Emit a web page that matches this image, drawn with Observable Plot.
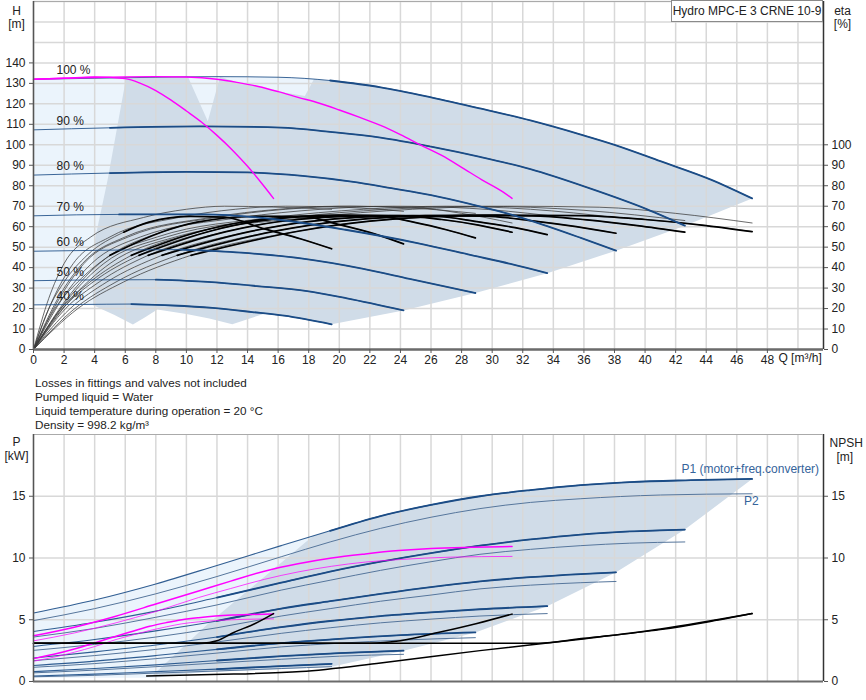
<!DOCTYPE html>
<html><head><meta charset="utf-8">
<script src="https://cdn.jsdelivr.net/npm/d3@7"></script>
<script src="https://cdn.jsdelivr.net/npm/@observablehq/plot@0.6"></script>
<style>
body{margin:0;background:#fff;font-family:"Liberation Sans",Arial,sans-serif;color:#222;}
#wrap{position:relative;width:866px;height:700px;overflow:hidden;}
.abs{position:absolute;font-size:11.7px;line-height:14px;white-space:nowrap;}
#topc,#botc{position:absolute;left:0;}
#topc{top:0}
#botc{top:426px}
#title{position:absolute;left:671px;top:0;width:150px;height:20px;border:1px solid #8a8a8a;background:#fff;font-size:12px;line-height:20px;text-align:center;}
</style></head><body><div id="wrap">
<div id="topc"></div>
<div id="botc"></div>
</div>
<script>
// ---------------- data ----------------
const qGrid = [0,2,4,6,8,10,12,14,16,18,20,22,24,26,28,30,32,34,36,38,40,42,44,46,48,50];
const qTicks = [0,2,4,6,8,10,12,14,16,18,20,22,24,26,28,30,32,34,36,38,40,42,44,46,48];
const hGrid = [0,10,20,30,40,50,60,70,80,90,100,110,120,130,140,150,160,170];
const hTicks = [0,10,20,30,40,50,60,70,80,90,100,110,120,130,140];
const etaTicks = [0,10,20,30,40,50,60,70,80,90,100];
const pGrid = [5,10,15];
const pTicks = [0,5,10,15];
const npshTicks = [0,5,10,15];

const speedLabels = ["100 %","90 %","80 %","70 %","60 %","50 %","40 %"];
// QH curves, 3 pumps, per speed  [Q m3/h, H m]
const qh100 = [[0,132],[4,132.5],[8,133],[12,133.3],[16,133],[19.4,131.4],[22.7,128.1],[26,123.2],[29.2,117.8],[32.5,111.9],[35.8,105],[38,100],[41,92],[44.3,83],[47,73.8]];
const qh90 = [[0,107.3],[5,108.3],[10.9,109],[16.2,108.4],[19.4,106.3],[22.7,103.5],[26,99.1],[29.2,94.1],[32.5,88.1],[36.2,79.2],[40.1,68.6],[42.6,60.5]];
const qh80 = [[0,85.2],[5,86.2],[10,86.8],[14,86.5],[17.6,84.8],[20.8,82],[23.4,78.8],[26,75.4],[28.6,71],[31.2,66],[33.5,60.5],[35.8,54.5],[38.1,48.3]];
const qh70 = [[0,65.3],[5.6,66],[11.2,66],[15.9,63.5],[20.4,58.5],[25.1,52],[28.7,46],[31.2,41.8],[33.6,37.3]];
const qh60 = [[0,48],[4.8,48.5],[9.6,48.8],[13.6,47.3],[17.5,44.5],[21.5,39.5],[24.6,34.5],[28.9,27.6]];
const qh50 = [[0,33.6],[4,34],[8,34.1],[11.4,33],[14.6,31],[17.9,28.5],[20.5,25],[24.2,19.1]];
const qh40 = [[0,21.8],[3.2,22],[6.4,22.2],[9.1,21.5],[11.7,20.3],[14.3,18.3],[16.4,16.5],[19.5,12.3]];
// 1 pump and 2 pumps at 100 % (magenta)
const qhOnePump = [[0,132],[2,132.5],[4,133.2],[6,132.3],[7,130],[8,126.5],[9,121.8],[10,116.5],[11,111],[12,104.6],[13,97.5],[14,89.5],[15,80.5],[15.7,73.8]];
const qhTwoPumps = [[0,132],[2,132.5],[4,132.9],[6,133.2],[8,133.3],[10,133.1],[12,132],[13.3,130.5],[14.7,128.5],[16,126],[17.3,123.2],[18.7,120.3],[20,117],[21.3,113.5],[22.7,109.5],[24,105],[25.3,100],[26.7,94.8],[28,89],[29.3,83],[30.7,77],[31.3,73.8]];

// efficiency curves [Q, eta %]
const etaTot100 = [[0,0],[2.9,20],[5.9,33],[10.3,46],[17.4,57.9],[22,62.7],[30.3,65.6],[35.8,65.4],[40,63.5],[43.7,60.8],[47,57.6]];
const etaTot90 = [[0,0],[2.7,20],[5.4,33],[9.4,46],[15.8,57.8],[20,62.6],[27.5,65.5],[32.6,65.3],[36.2,63.3],[39.5,60.5],[42.6,57.3]];
const etaTot80 = [[0,0],[2.4,20],[4.8,33],[8.4,46],[14.2,57.7],[18,62.5],[24.8,65.4],[29.5,65.2],[32.5,63],[35.5,60],[38.1,56.8]];
const etaTot70 = [[0,0],[2.1,20],[4.3,33],[7.5,46],[12.6,57.6],[16,62.4],[22,65.3],[26.2,65.1],[29,62.5],[31.5,59.5],[33.6,56.1]];
const etaTot60 = [[0,0],[1.8,20],[3.7,33],[6.4,46],[10.8,57.5],[13.7,62.3],[18.8,65.2],[22.5,65],[25,62],[27,58.5],[28.9,54.5]];
const etaTot50 = [[0,0],[1.4,20],[2.9,33],[5,46],[8.4,57.4],[10.7,62.2],[14.7,65.1],[17.5,65],[20,61],[22.3,56.5],[24.2,51.6]];
const etaTot40 = [[0,0],[1,20],[2,33],[3.5,46],[5.9,57.3],[7.5,62.1],[10.3,65],[12.5,64.6],[15.1,58.9],[17.5,54],[19.5,49.2]];
const etaTotTwo = [[0,0],[1.9,20],[3.9,33],[6.9,46],[11.6,57.9],[14.7,62.7],[20.2,65.6],[23.9,65.4],[26.7,63.5],[29.1,60.8],[31.3,57.3]];
const etaPump100 = [[0,0],[2.5,25],[5,42],[9.3,55],[18,64.5],[24.8,68.5],[31,70],[37,69.5],[42,66.5],[47,61.8]];
const etaPump90 = [[0,0],[2.3,25],[4.6,42],[8.7,55],[16.8,64.5],[23.2,68.5],[29,70],[36,68],[42.6,63]];
const etaPump80 = [[0,0],[2.2,25],[4.3,42],[8.1,55],[15.7,64.5],[21.6,68.5],[27,70],[32.5,68.5],[38.1,64.5]];
const etaPump70 = [[0,0],[1.9,25],[3.8,42],[7,55],[13.6,64.5],[18.8,68.5],[23.5,70],[28.5,69],[33.6,65.5]];
const etaPump60 = [[0,0],[1.6,25],[3.2,42],[6,55],[11.6,64.5],[16,68.5],[20,70],[24.5,69.2],[28.9,66.5]];
const etaPump50 = [[0,0],[1.3,25],[2.6,42],[5,55],[9.5,64.5],[13.2,68.5],[16.5,70],[20.5,69.4],[24.2,67.5]];
const etaPump40 = [[0,0],[1,25],[2,42],[3.75,55],[7.2,64.5],[10,68.5],[12.5,70],[15.6,69.6],[19.5,68.5]];
const etaPumpTwo = [[0,0],[1.7,25],[3.3,42],[6.2,55],[12,64.5],[16.5,68.5],[20.7,70],[24.7,69.5],[28,66.5],[31.3,61.8]];

// shaded operating areas, top chart [Q, H]
const areaFullQH = [[0,21.8],[4.0,21.6],[5.7,110],[11.4,108],[17.9,120],[18.4,132.3],[16,133],[12,133.3],[8,133],[4,132.5],[0,132]];
const areaPumpsQH = [[3.9,21.6],[3.85,35],[3.96,51.6],[4.84,82.5],[6.05,132.4],[8,133],[10.1,133.2],[11.4,111.5],[12.2,133.3],[13.3,130.5],[14.7,128.5],[16,126],[17.75,123.8],[18.35,132.2],[19.4,131.4],[22.7,128.1],[26,123.2],[29.2,117.8],[32.5,111.9],[35.8,105],[38,100],[41,92],[44.3,83],[47,73.8],[42.6,60.5],[38.1,48.3],[33.6,37.3],[28.9,27.6],[24.2,19.1],[19.5,12.3],[16.4,16.5],[15.1,17.5],[14,14.8],[13,12.3],[11.5,15.2],[10,17.4],[8.1,19.5],[7.3,15.8],[6.5,12.2],[5.3,16.8],[3.9,21.6]];

// power curves, 3 pumps [Q, P kW]
const p1_100 = [[0,5.55],[4,6.6],[8,7.9],[12,9.4],[16.2,11.0],[19.4,12.2],[22.7,13.4],[26,14.3],[29.2,15.0],[32.5,15.5],[35.8,15.9],[39,16.15],[43,16.3],[47,16.4]];
const p2_100 = [[0,4.93],[4,5.9],[8,7.1],[12,8.5],[16.2,10.1],[19.4,11.3],[22.7,12.4],[26,13.3],[29.2,14.0],[32.5,14.5],[35.8,14.8],[41,15.1],[47,15.2]];
const p1_90 = [[0,4.05],[4,4.8],[8,5.7],[12,6.8],[16.2,8.0],[19.4,8.9],[22.7,9.7],[26,10.4],[29.2,11.0],[32.5,11.5],[35.8,11.9],[39,12.15],[42.6,12.3]];
const p2_90 = [[0,3.6],[4,4.3],[8,5.2],[12,6.2],[16.2,7.4],[19.4,8.2],[22.7,9.0],[26,9.7],[29.2,10.3],[32.5,10.7],[35.8,11.0],[39,11.2],[42.6,11.3]];
const p1_80 = [[0,2.84],[4,3.4],[8,4.1],[12,4.9],[16.2,5.9],[19.4,6.5],[22.7,7.1],[26,7.65],[29.2,8.1],[32.5,8.45],[35.8,8.7],[38.1,8.84]];
const p2_80 = [[0,2.52],[4,3.0],[8,3.6],[12,4.35],[16.2,5.3],[19.4,5.9],[22.7,6.5],[26,7.0],[29.2,7.5],[32.5,7.8],[35.8,8.0],[38.1,8.1]];
const p1_70 = [[0,1.9],[4,2.4],[8,2.95],[12,3.6],[16.2,4.4],[19.4,4.9],[22.7,5.3],[26,5.6],[29.2,5.85],[33.6,6.1]];
const p2_70 = [[0,1.69],[4,2.1],[8,2.6],[12,3.2],[16.2,3.9],[19.4,4.35],[22.7,4.75],[26,5.05],[29.2,5.3],[33.6,5.5]];
const p1_60 = [[0,1.3],[4,1.65],[8,2.1],[12,2.6],[16.2,3.1],[20,3.45],[24,3.75],[28.9,3.97]];
const p2_60 = [[0,1.15],[4,1.45],[8,1.85],[12,2.3],[16.2,2.8],[20,3.1],[24,3.35],[28.9,3.55]];
const p1_50 = [[0,0.8],[4,1.05],[8,1.35],[12,1.7],[16.2,2.05],[20,2.3],[24.2,2.5]];
const p2_50 = [[0,0.7],[4,0.92],[8,1.2],[12,1.5],[16.2,1.8],[20,2.05],[24.2,2.2]];
const p1_40 = [[0,0.45],[4,0.6],[8,0.8],[12,1.0],[16.2,1.25],[19.5,1.43]];
const p2_40 = [[0,0.38],[4,0.5],[8,0.68],[12,0.85],[16.2,1.05],[19.5,1.2]];
const p1OnePump = [[0,1.85],[1.33,2.2],[2.67,2.63],[4,3.13],[5.4,3.67],[6.5,4.07],[7.6,4.47],[8.7,4.77],[9.7,5.0],[10.8,5.17],[11.9,5.3],[13,5.38],[14.3,5.43],[15.7,5.47]];
const p2OnePump = [[0,1.64],[1.33,1.97],[2.67,2.37],[4,2.83],[5.4,3.4],[6.5,3.77],[7.6,4.13],[8.7,4.43],[9.7,4.67],[10.8,4.83],[11.9,4.93],[13.7,5.03],[15.7,5.07]];
const p1TwoPumps = [[0,3.7],[2.67,4.4],[5.33,5.27],[8,6.27],[10.8,7.33],[12.9,8.13],[15.1,8.93],[17.3,9.53],[19.5,10.0],[21.7,10.33],[23.9,10.6],[26,10.77],[28.7,10.87],[31.3,10.93]];
const p2TwoPumps = [[0,3.29],[2.67,3.93],[5.33,4.73],[8,5.67],[10.8,6.8],[12.9,7.53],[15.1,8.27],[17.3,8.87],[19.5,9.33],[21.7,9.67],[23.9,9.87],[27.3,10.07],[31.3,10.13]];
// NPSH curves [Q, m]
const npshOne = [[0,3.1],[11,3.1],[12,3.3],[13.1,3.97],[14.5,4.7],[15.7,5.5]];
const npshTwo = [[0,3.1],[22,3.1],[24,3.3],[26.6,4.0],[29,4.7],[31.3,5.46]];
const npshThree = [[0,3.1],[33,3.1],[36,3.5],[41,4.2],[44,4.8],[47,5.5]];
const npshLow = [[7.4,0.45],[13.1,0.6],[17.5,0.8],[22.7,1.5],[29.2,2.5],[35.8,3.43],[41,4.25],[47,5.5]];
// shaded areas, lower chart [Q, P]
const areaFullP = [[0,0.3],[0,5.55],[4,6.6],[8,7.9],[12,9.4],[16.2,11.0],[18.3,11.8],[17,5],[12,0.9],[8,0.3]];
const areaPumpsP = [[7.8,0.5],[11.4,4.65],[18.3,11.8],[19.4,12.2],[22.7,13.4],[26,14.3],[29.2,15.0],[32.5,15.5],[35.8,15.9],[39,16.15],[43,16.3],[47,16.4],[42.6,12.3],[38.1,8.84],[33.6,6.1],[28.9,3.97],[24.2,2.5],[19.5,1.2],[16.2,1.0],[12.2,0.8],[7.8,0.5]];

const notes = ["Losses in fittings and valves not included","Pumped liquid = Water","Liquid temperature during operation = 20 °C","Density = 998.2 kg/m³"];
const titleText = "Hydro MPC-E 3 CRNE 10-9";

// ---------------- styles ----------------
const FONT = "Liberation Sans, Arial, sans-serif";
const BLUE = "#1b4c86", BLUE2 = "#56769c", MAG = "#ff00ff";
const FILL_LIGHT = "#ebf4fc", FILL_GRAY = "#d0dce8", GRID = "#d8d8d8";
const QMAX = 51.67;
const X = d => d[0], Y = d => d[1];

function series(list) { return list.flatMap((pts, i) => pts.map(p => ({q: p[0], v: p[1], k: i}))); }

const qhCurves = [qh100, qh90, qh80, qh70, qh60, qh50, qh40];
const etaTot = [etaTot100, etaTot90, etaTot80, etaTot70, etaTot60, etaTot50, etaTot40, etaTotTwo];
const etaPump = [etaPump100, etaPump90, etaPump80, etaPump70, etaPump60, etaPump50, etaPump40, etaPumpTwo];
const qhLabels = qhCurves.map((c, i) => ({q: c[0][0], v: c[0][1], t: speedLabels[i]}));
const etaThick = etaTot.map(c => { const end = c[c.length-1][0]; return c.filter(p => p[0] >= 0.18*end); });
const qhThick = qhCurves.map((c, i) => c.filter(p => p[0] >= (i === 0 ? 18 : 5)));

const axisStyle = {fontSize: "12px", fontFamily: FONT, color: "#222", overflow: "visible"};

const topChart = Plot.plot({
  width: 866, height: 376, marginLeft: 33, marginRight: 43, marginTop: 1, marginBottom: 27,
  style: axisStyle,
  x: {domain: [0, QMAX], axis: null},
  y: {domain: [0, 170], axis: null},
  marks: [
    Plot.line(areaFullQH, {x: X, y: Y, fill: FILL_LIGHT, stroke: "none", curve: "linear"}),
    Plot.line(areaPumpsQH, {x: X, y: Y, fill: FILL_GRAY, stroke: "none", curve: "linear"}),
    Plot.ruleX(qGrid, {stroke: GRID, strokeWidth: 1.5}),
    Plot.ruleY(hGrid, {stroke: GRID, strokeWidth: 1.5}),
    Plot.line(series(etaPump), {x: "q", y: "v", z: "k", stroke: "#3a3a3a", strokeWidth: 0.75, curve: "monotone-x"}),
    Plot.line(series(etaTot), {x: "q", y: "v", z: "k", stroke: "#3a3a3a", strokeWidth: 0.75, curve: "monotone-x"}),
    Plot.line(series(etaThick), {x: "q", y: "v", z: "k", stroke: "#000", strokeWidth: 1.7, curve: "monotone-x"}),
    Plot.line(series(qhCurves), {x: "q", y: "v", z: "k", stroke: BLUE, strokeWidth: 1, strokeOpacity: 0.85, curve: "monotone-x"}),
    Plot.line(series(qhThick), {x: "q", y: "v", z: "k", stroke: BLUE, strokeWidth: 1.8, curve: "monotone-x"}),
    Plot.line(qhOnePump, {x: X, y: Y, stroke: MAG, strokeWidth: 1.4, curve: "monotone-x"}),
    Plot.line(qhTwoPumps, {x: X, y: Y, stroke: MAG, strokeWidth: 1.4, curve: "monotone-x"}),
    Plot.text(qhLabels, {x: "q", y: "v", text: "t", dx: 23, dy: -9, textAnchor: "start", fontSize: 12, fill: "#222"}),
    Plot.ruleX([QMAX], {stroke: "#333", strokeWidth: 1.5}),
    Plot.ruleY([170], {stroke: "#aaa", strokeWidth: 1}),
    Plot.ruleX([0], {stroke: "#555", strokeWidth: 1.5}),
    Plot.ruleY([0], {stroke: "#6b6b6b", strokeWidth: 2.5}),
    Plot.axisX(qTicks, {anchor: "bottom", label: null, tickSize: 4, tickPadding: 2, stroke: "#555", fontSize: 12}),
    Plot.axisY(hTicks, {anchor: "left", label: null, tickSize: 4, tickPadding: 4, stroke: "#555", fontSize: 12}),
    Plot.axisY(etaTicks, {anchor: "right", label: null, tickSize: 4, tickPadding: 4, stroke: "#555", fontSize: 12}),
    Plot.text(["Q [m³/h]"], {x: 48, frameAnchor: "bottom", dx: 11, dy: 12, textAnchor: "start", fontSize: 12, fill: "#222"}),
    Plot.text(["H"], {frameAnchor: "top-left", dx: -17, dy: 5, textAnchor: "middle", fontSize: 12, fill: "#222"}),
    Plot.text(["[m]"], {frameAnchor: "top-left", dx: -17, dy: 18, textAnchor: "middle", fontSize: 12, fill: "#222"}),
    Plot.text(["eta"], {frameAnchor: "top-right", dx: 19, dy: 5, textAnchor: "middle", fontSize: 12, fill: "#222"}),
    Plot.text(["[%]"], {frameAnchor: "top-right", dx: 19, dy: 18, textAnchor: "middle", fontSize: 12, fill: "#222"})
  ]
});
document.getElementById("topc").appendChild(topChart);

const pCurves = [p1_100, p1_90, p1_80, p1_70, p1_60, p1_50, p1_40];
const p2Curves = [p2_100, p2_90, p2_80, p2_70, p2_60, p2_50, p2_40];
const pThick = pCurves.map((c, i) => c.filter(p => p[0] >= (i === 0 ? 18 : 12)));
const npsh = [npshOne, npshTwo, npshThree, npshLow];

const botChart = Plot.plot({
  width: 866, height: 270, marginLeft: 33, marginRight: 43, marginTop: 8, marginBottom: 15,
  style: axisStyle,
  x: {domain: [0, QMAX], axis: null},
  y: {domain: [0, 20], axis: null},
  marks: [
    Plot.line(areaFullP, {x: X, y: Y, fill: FILL_LIGHT, stroke: "none", curve: "linear"}),
    Plot.line(areaPumpsP, {x: X, y: Y, fill: FILL_GRAY, stroke: "none", curve: "linear"}),
    Plot.ruleX(qGrid, {stroke: GRID, strokeWidth: 1.5}),
    Plot.ruleY(pGrid, {stroke: GRID, strokeWidth: 1.5}),
    Plot.line(series(p2Curves), {x: "q", y: "v", z: "k", stroke: BLUE2, strokeWidth: 1, curve: "monotone-x"}),
    Plot.line(series(pCurves), {x: "q", y: "v", z: "k", stroke: BLUE, strokeWidth: 1.1, strokeOpacity: 0.9, curve: "monotone-x"}),
    Plot.line(series(pThick), {x: "q", y: "v", z: "k", stroke: BLUE, strokeWidth: 1.8, curve: "monotone-x"}),
    Plot.line(p2OnePump, {x: X, y: Y, stroke: MAG, strokeWidth: 0.9, strokeOpacity: 0.8, curve: "monotone-x"}),
    Plot.line(p1OnePump, {x: X, y: Y, stroke: MAG, strokeWidth: 1.5, curve: "monotone-x"}),
    Plot.line(p2TwoPumps, {x: X, y: Y, stroke: MAG, strokeWidth: 0.9, strokeOpacity: 0.8, curve: "monotone-x"}),
    Plot.line(p1TwoPumps, {x: X, y: Y, stroke: MAG, strokeWidth: 1.5, curve: "monotone-x"}),
    Plot.line(series(npsh), {x: "q", y: "v", z: "k", stroke: "#000", strokeWidth: 1.5, curve: "monotone-x"}),
    Plot.text([p1_100[p1_100.length-1]], {x: X, y: Y, text: () => "P1 (motor+freq.converter)", dx: 67, dy: -10, textAnchor: "end", fontSize: 12, fill: "#35649b"}),
    Plot.text([p2_100[p2_100.length-1]], {x: X, y: Y, text: () => "P2", dx: -8, dy: 7, textAnchor: "start", fontSize: 12, fill: "#35649b"}),
    Plot.ruleX([QMAX], {stroke: "#333", strokeWidth: 1.5}),
    Plot.ruleY([20], {stroke: "#aaa", strokeWidth: 1}),
    Plot.ruleX([0], {stroke: "#555", strokeWidth: 1.5}),
    Plot.ruleY([0], {stroke: "#6b6b6b", strokeWidth: 2}),
    Plot.axisY(pTicks, {anchor: "left", label: null, tickSize: 4, tickPadding: 4, stroke: "#555", fontSize: 12}),
    Plot.axisY(npshTicks, {anchor: "right", label: null, tickSize: 4, tickPadding: 4, stroke: "#555", fontSize: 12}),
    Plot.text(["P"], {frameAnchor: "top-left", dx: -17, dy: 3, textAnchor: "middle", fontSize: 12, fill: "#222"}),
    Plot.text(["[kW]"], {frameAnchor: "top-left", dx: -17, dy: 17, textAnchor: "middle", fontSize: 12, fill: "#222"}),
    Plot.text(["NPSH"], {frameAnchor: "top-right", dx: 6, dy: 4, textAnchor: "start", fontSize: 12, fill: "#222"}),
    Plot.text(["[m]"], {frameAnchor: "top-right", dx: 13, dy: 18, textAnchor: "start", fontSize: 12, fill: "#222"})
  ]
});
document.getElementById("botc").appendChild(botChart);

const wrap = document.getElementById("wrap");
notes.forEach((t, i) => {
  const d = document.createElement("div");
  d.className = "abs"; d.style.left = "35px"; d.style.top = (376 + i*14) + "px"; d.textContent = t;
  wrap.appendChild(d);
});
const tb = document.createElement("div");
tb.id = "title"; tb.textContent = titleText; wrap.appendChild(tb);
</script>
</body></html>
